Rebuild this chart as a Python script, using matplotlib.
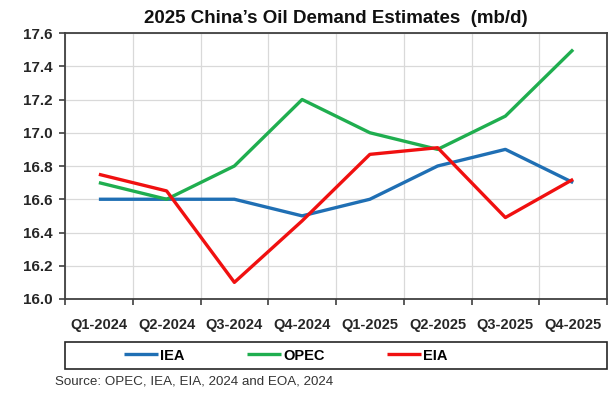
import numpy as np
import matplotlib.pyplot as plt
from matplotlib.patches import Rectangle

plt.rcParams['font.family'] = ['Liberation Sans', 'DejaVu Sans']

quarters = ['Q1-2024', 'Q2-2024', 'Q3-2024', 'Q4-2024',
            'Q1-2025', 'Q2-2025', 'Q3-2025', 'Q4-2025']
iea = [16.6, 16.6, 16.6, 16.5, 16.6, 16.8, 16.9, 16.7]
opec = [16.7, 16.6, 16.8, 17.2, 17.0, 16.9, 17.1, 17.5]
eia = [16.75, 16.65, 16.1, 16.47, 16.87, 16.91, 16.49, 16.72]

fig = plt.figure(figsize=(6.13, 3.98), dpi=100)
ax = fig.add_axes([65 / 613, 1 - 299 / 398, 542 / 613, 266 / 398])

x = np.arange(len(quarters))
ax.plot(x, iea, color='#1f6fb4', lw=2.4, label='IEA', solid_capstyle='butt')
ax.plot(x, opec, color='#1fae4f', lw=2.4, label='OPEC', solid_capstyle='butt')
ax.plot(x, eia, color='#f01010', lw=2.4, label='EIA', solid_capstyle='butt')

ax.set_xlim(-0.5, len(quarters) - 0.5)
ax.set_ylim(16.0, 17.6)
yt = np.arange(16.0, 17.61, 0.2)
ax.set_yticks(yt)
ax.set_yticklabels([f'{v:.1f}' for v in yt], fontsize=11, fontweight='bold', color='#262626')

# category ticks sit on the boundaries, labels in the middle
ax.set_xticks(np.arange(-0.5, len(quarters), 1.0))
ax.set_xticklabels([])
ax.set_xticks(x, minor=True)
ax.set_xticklabels(quarters, minor=True, fontsize=10.5, fontweight='bold', color='#262626')
ax.tick_params(axis='x', which='minor', length=0, pad=14)
ax.tick_params(axis='x', which='major', length=4, width=1.2, color='#404040')
ax.tick_params(axis='y', length=4, width=1.2, color='#404040', pad=5)

ax.grid(True, which='major', color='#d9d9d9', lw=0.9)
ax.set_axisbelow(True)
for s in ax.spines.values():
    s.set_color('#404040')
    s.set_linewidth(1.3)

ax.set_title("2025 China\u2019s Oil Demand Estimates  (mb/d)", fontsize=13.5,
             fontweight='bold', color='#111111', pad=7)

# legend box spans the plot width, entries grouped left of centre
fig.add_artist(Rectangle((65 / 613, 1 - 369 / 398), 542 / 613, 27 / 398,
                         transform=fig.transFigure, fill=False,
                         edgecolor='#262626', lw=1.2))
fig.legend(loc='center', bbox_to_anchor=(286 / 613, 1 - 355.5 / 398),
           ncol=3, frameon=False, handlelength=2.3, handletextpad=0.15,
           columnspacing=4.3, prop={'weight': 'bold', 'size': 10.5})

fig.text(55 / 613, 1 - 381 / 398, 'Source: OPEC, IEA, EIA, 2024 and EOA, 2024',
         fontsize=9.6, color='#333333', va='center')

fig.savefig('out.png', dpi=100)
